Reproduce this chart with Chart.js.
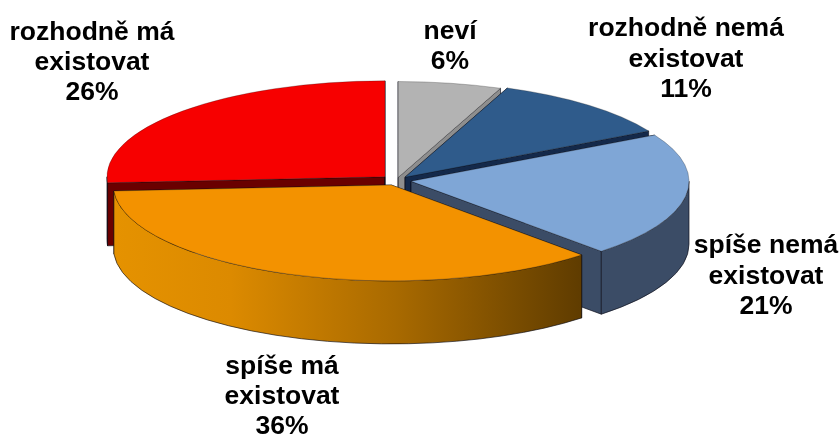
<!DOCTYPE html>
<html><head><meta charset="utf-8">
<style>html,body{margin:0;padding:0;background:#fff}canvas{display:block}</style>
<script src="https://cdn.jsdelivr.net/npm/chart.js@4"></script>
</head><body>
<canvas id="c" width="840" height="437"></canvas>
<script>
const categories = ['neví','rozhodně nemá existovat','spíše nemá existovat','spíše má existovat','rozhodně má existovat'];
const values = [6,11,21,36,26];
const labelLines = [['neví'],['rozhodně nemá','existovat'],['spíše nemá','existovat'],['spíše má','existovat'],['rozhodně má','existovat']];
const topColors = ['#B3B3B3','#2F5B8B','#7FA6D6','#F39200','#F70000'];
const wallColors = ['#8E8E8E','#14294A','#3B4C66','#A86A00','#6A0000'];
const explode = [9,12.9,14.7,14,15.8];
const labelCenterX = [450,686,766,282,92];
const labelTopY = [32,29,246,367,33];
const labelLineGap = [30,30.5,30.5,30,30];
const drawOrder = [0,1,2,4,3];
const squash = 0.345, depth = 63;

const pie3d = {
  id:'pie3d',
  beforeDatasetsDraw(chart){
    const ctx = chart.ctx, arcs = chart.getDatasetMeta(0).data;
    drawOrder.forEach(i=>{
      const arc = arcs[i], R = arc.outerRadius, a1 = arc.startAngle, a2 = arc.endAngle, mid=(a1+a2)/2;
      const dx = Math.cos(mid)*explode[i], dy = Math.sin(mid)*explode[i]*squash;
      const px = arc.x+dx, py = arc.y+dy, kR = R*squash;
      const ex = a=>px+R*Math.cos(a), ey = a=>py+kR*Math.sin(a);
      ctx.save();
      ctx.lineWidth = 0.8; ctx.strokeStyle = 'rgba(10,10,20,0.8)'; ctx.lineJoin='round';
      ctx.fillStyle = wallColors[i];
      [a1,a2].forEach(a=>{
        ctx.beginPath();
        ctx.moveTo(px,py); ctx.lineTo(ex(a),ey(a)); ctx.lineTo(ex(a),ey(a)+depth); ctx.lineTo(px,py+depth);
        ctx.closePath(); ctx.fill(); ctx.stroke();
      });
      [[a1,a2],[a1+2*Math.PI,a2+2*Math.PI],[a1-2*Math.PI,a2-2*Math.PI]].forEach(([p,q])=>{
        const s2=Math.max(p,0), e2=Math.min(q,Math.PI);
        if(e2<=s2) return;
        ctx.beginPath();
        ctx.ellipse(px,py,R,kR,0,s2,e2);
        ctx.lineTo(ex(e2),ey(e2)+depth);
        ctx.ellipse(px,py+depth,R,kR,0,e2,s2,true);
        ctx.closePath();
        if(i===3){
          const g = ctx.createLinearGradient(ex(e2),0,ex(s2),0);
          g.addColorStop(0,'#E59200'); g.addColorStop(0.25,'#DC8A00');
          g.addColorStop(0.6,'#A96A00'); g.addColorStop(1,'#5F3C00');
          ctx.fillStyle=g;
        } else ctx.fillStyle = wallColors[i];
        ctx.fill(); ctx.stroke();
      });
      ctx.translate(px,py); ctx.scale(1,squash); ctx.translate(-arc.x,-arc.y);
      arc.draw(ctx);
      ctx.restore();
    });
    return false;
  },
  afterDraw(chart){
    const ctx = chart.ctx;
    ctx.save();
    ctx.fillStyle='#000'; ctx.font='bold 26.5px "Liberation Sans", Arial, sans-serif';
    ctx.textAlign='center'; ctx.textBaseline='middle';
    values.forEach((v,i)=>{
      const lines = labelLines[i].concat(v+'%');
      lines.forEach((t,j)=>ctx.fillText(t,labelCenterX[i],labelTopY[i]+j*labelLineGap[i]));
    });
    ctx.restore();
  }
};

new Chart(document.getElementById('c'),{
  type:'pie',
  data:{labels:categories,datasets:[{data:values,backgroundColor:topColors,borderColor:'rgba(20,20,20,0.55)',borderWidth:0.7,radius:278,clip:false}]},
  options:{responsive:false,animation:false,
    layout:{padding:{right:47,bottom:76}},
    plugins:{legend:{display:false},tooltip:{enabled:false},title:{display:false}}},
  plugins:[pie3d]
});
</script>
</body></html>
